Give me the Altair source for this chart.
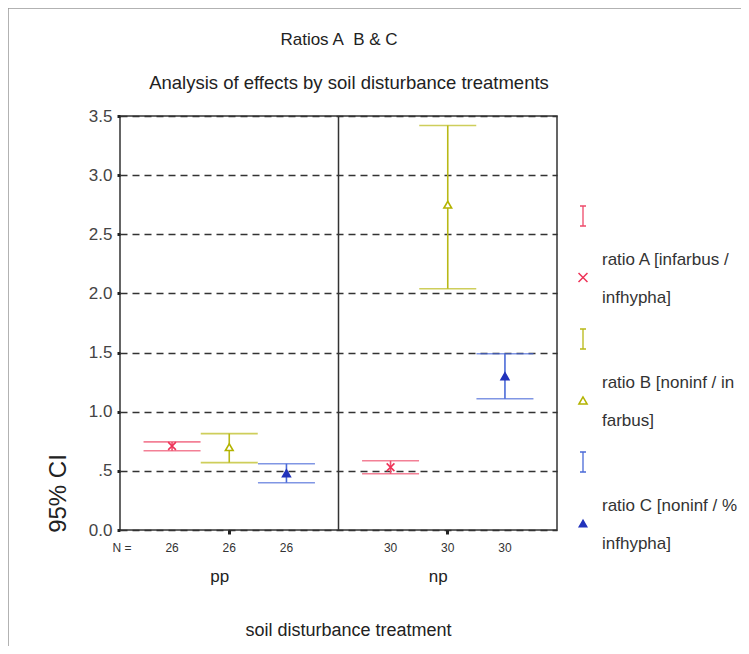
import altair as alt
import pandas as pd

# ---------------- data ----------------
treatments = ["pp", "np"]
series = ["A", "B", "C"]

mean_pp = [0.71, 0.70, 0.48]
low_pp = [0.67, 0.57, 0.40]
high_pp = [0.745, 0.815, 0.56]

mean_np = [0.53, 2.75, 1.30]
low_np = [0.475, 2.04, 1.11]
high_np = [0.585, 3.42, 1.49]

n_pp = [26, 26, 26]
n_np = [30, 30, 30]

legend_line1 = ["ratio A [infarbus /", "ratio B [noninf / in", "ratio C [noninf / %"]
legend_line2 = ["infhypha]", "farbus]", "infhypha]"]

title_text = "Ratios A\u00a0 B & C"
subtitle_text = "Analysis of effects by soil disturbance treatments"

y_ticks = [0.0, 0.5, 1.0, 1.5, 2.0, 2.5, 3.0, 3.5]

line_colors = ["#ee4a6a", "#b9b916", "#4a6ad8"]
marker_stroke = ["#ee3358", "#b3b300", "#2233bb"]
marker_fill = ["transparent", "#ffffff", "#2233bb"]
legend_marker_sizes = [80, 55, 45]

X_PATH = "M-1,-1L1,1M-1,1L1,-1"
BEAM_PATH = "M-0.3,-1H0.3M0,-1V1M-0.3,1H0.3"

# ---------------- tables ----------------
rows = []
for t, means, lows, highs, ns in [
    ("pp", mean_pp, low_pp, high_pp, n_pp),
    ("np", mean_np, low_np, high_np, n_np),
]:
    for s, m, lo, hi, n in zip(series, means, lows, highs, ns):
        rows.append({"treatment": t, "series": s, "mean": m, "lo": lo, "hi": hi, "n": n})
df = pd.DataFrame(rows)

beam_rows, mark_rows, text_rows = [], [], []
for i, s in enumerate(series):
    beam_rows.append({"series": s, "pos": i + 0.0})
    mark_rows.append({"series": s, "pos": i + 0.50})
    text_rows.append({"series": s, "pos": i + 0.36, "label": legend_line1[i]})
    text_rows.append({"series": s, "pos": i + 0.67, "label": legend_line2[i]})
beam_df = pd.DataFrame(beam_rows)
mark_df = pd.DataFrame(mark_rows)
text_df = pd.DataFrame(text_rows)

FONT = "Liberation Sans"
DARK = "#333333"

x_scale = alt.Scale(domain=treatments, paddingInner=0, paddingOuter=0)
y_scale = alt.Scale(domain=[0, 3.5], nice=False, zero=False)

x_axis = alt.Axis(
    labelAngle=0, labelFontSize=17, labelColor="#222", labelPadding=42,
    tickSize=4, tickWidth=3, tickColor="#222", domain=False, grid=False,
    titleFontSize=18, titleColor="#222", titleFontWeight="normal",
    titleX=228, titleY=100, titleBaseline="middle", titleAlign="center",
)
y_axis = alt.Axis(
    values=y_ticks, labelExpr="datum.value == 0.5 ? '.5' : format(datum.value, '.1f')",
    labelFontSize=17, labelColor="#444", labelPadding=5,
    tickSize=3, tickWidth=3, tickColor="#222", domain=False,
    grid=True, gridColor=DARK, gridDash=[7, 5], gridWidth=1.3,
    titleFontSize=24, titleColor="#222", titleFontWeight="normal",
    titleX=-62, titleY=377, titleAngle=270, titleBaseline="middle", titleAlign="center",
)

X = alt.X("treatment:N", scale=x_scale, axis=x_axis, title="soil disturbance treatment")
XO = alt.XOffset("series:N", scale=alt.Scale(domain=series, paddingInner=0, paddingOuter=0.41))
COLOR = alt.Color("series:N", scale=alt.Scale(domain=series, range=line_colors), legend=None)
SHAPE = alt.Shape("series:N", scale=alt.Scale(domain=series, range=[X_PATH, "triangle-up", "triangle-up"]), legend=None)
STROKE = alt.Stroke("series:N", scale=alt.Scale(domain=series, range=marker_stroke), legend=None)
FILL = alt.Fill("series:N", scale=alt.Scale(domain=series, range=marker_fill), legend=None)

base = alt.Chart(df)

caps_lo = base.mark_tick(size=57, thickness=1.6).encode(
    x=X, xOffset=XO, y=alt.Y("lo:Q", scale=y_scale, axis=y_axis, title="95% CI"), color=COLOR
)
caps_hi = base.mark_tick(size=57, thickness=1.6).encode(
    x=X, xOffset=XO, y=alt.Y("hi:Q", scale=y_scale, title="95% CI"), color=COLOR
)
stems = base.mark_rule(strokeWidth=1.6).encode(
    x=X, xOffset=XO, y=alt.Y("lo:Q", scale=y_scale, title="95% CI"), y2="hi:Q", color=COLOR
)
points = base.mark_point(size=60, strokeWidth=1.6, opacity=1).encode(
    x=X, xOffset=XO, y=alt.Y("mean:Q", scale=y_scale, title="95% CI"),
    shape=SHAPE, stroke=STROKE, fill=FILL,
)
ntext = base.mark_text(fontSize=12, color="#333", font=FONT).encode(
    x=X, xOffset=XO, y=alt.value(432), text="n:Q"
)
divider = alt.Chart(pd.DataFrame({"treatment": ["np"]})).mark_rule(color=DARK, strokeWidth=1.5).encode(
    x=alt.X("treatment:N", scale=x_scale, bandPosition=0)
)
nlabel = alt.Chart(pd.DataFrame({"t": ["N ="]})).mark_text(fontSize=12, color="#333", font=FONT).encode(
    x=alt.value(2), y=alt.value(432), text="t:N"
)
frame = alt.Chart(pd.DataFrame({"f": [1]})).mark_rect(
    fill="transparent", stroke="#999999", strokeWidth=1.5
).encode(x=alt.value(-112), x2=alt.value(650), y=alt.value(-108), y2=alt.value(560))

title_mark = alt.Chart(pd.DataFrame({"t": [title_text]})).mark_text(
    fontSize=17, color="#222", font=FONT, baseline="middle"
).encode(x=alt.value(219), y=alt.value(-76), text="t:N")
subtitle_mark = alt.Chart(pd.DataFrame({"t": [subtitle_text]})).mark_text(
    fontSize=18.5, color="#222", font=FONT, baseline="middle"
).encode(x=alt.value(229), y=alt.value(-33), text="t:N")

main = alt.layer(frame, divider, caps_lo, caps_hi, stems, points, ntext, nlabel, title_mark, subtitle_mark)

LY = alt.Y("pos:Q", scale=alt.Scale(domain=[0, 1], range=[100, 223]), axis=None)
leg_beam = alt.Chart(beam_df).mark_point(shape=BEAM_PATH, size=400, filled=False, strokeWidth=1.3, opacity=1).encode(
    x=alt.value(463), y=LY, color=COLOR
)
leg_mark = alt.Chart(mark_df).mark_point(strokeWidth=1.5, opacity=1).encode(
    x=alt.value(463), y=LY, shape=SHAPE, stroke=STROKE, fill=FILL,
    size=alt.Size("series:N", scale=alt.Scale(domain=series, range=legend_marker_sizes), legend=None),
)
leg_text = alt.Chart(text_df).mark_text(align="left", baseline="middle", fontSize=17, color="#333", font=FONT).encode(
    x=alt.value(482), y=LY, text="label:N"
)
legend = alt.layer(leg_beam, leg_mark, leg_text)

chart = alt.layer(main, legend).resolve_scale(y="independent").properties(
    width=437, height=414,
    padding={"left": 112, "top": 108, "right": 184, "bottom": 116},
    autosize=alt.AutoSizeParams(type="none"),
).configure(
    background="white", font=FONT,
    view=alt.ViewConfig(stroke=DARK, strokeWidth=1.5),
)

chart.save("out.html", embed_options={"renderer": "svg", "actions": False})
